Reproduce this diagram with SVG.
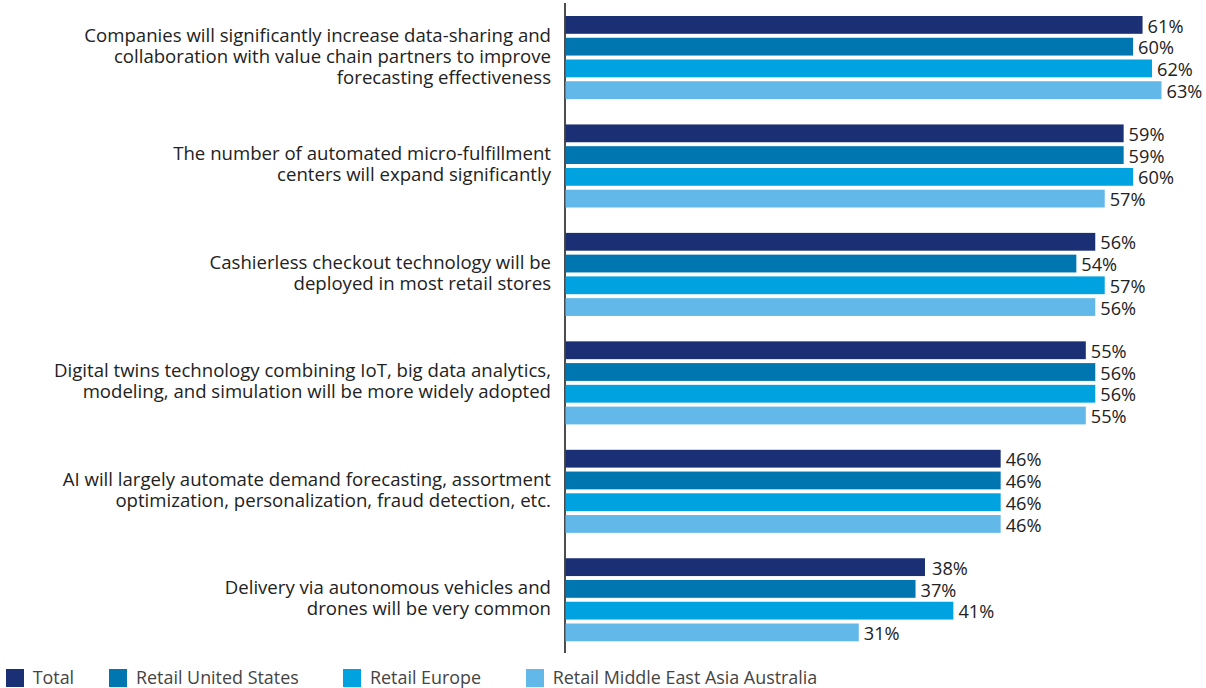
<svg xmlns="http://www.w3.org/2000/svg" width="1206" height="688" viewBox="0 0 1206 688">
<style>
.cat{font-family:"Open Sans","Liberation Sans",sans-serif;font-size:18.6px;fill:#222;text-anchor:end}
.val{font-family:"Open Sans","Liberation Sans",sans-serif;font-size:18.2px;fill:#222}
.leg{font-family:"Open Sans","Liberation Sans",sans-serif;font-size:17.9px;fill:#444}
.c0{fill:#1b2f74}.c1{fill:#0076b1}.c2{fill:#00a3e0}.c3{fill:#62b9e9}
</style>
<rect width="1206" height="688" fill="#ffffff"/>
<g id="axis"><line x1="565" y1="3" x2="565" y2="653" stroke="#000" stroke-width="1.4"/></g>
<g id="group1">
<text class="cat" x="551" y="41.5">Companies will significantly increase data-sharing and</text>
<text class="cat" x="551" y="62.5">collaboration with value chain partners to improve</text>
<text class="cat" x="551" y="83.5">forecasting effectiveness</text>
<rect class="c0" x="565.5" y="16" width="577.06" height="17.8"/>
<rect class="c1" x="565.5" y="37.75" width="567.6" height="17.8"/>
<rect class="c2" x="565.5" y="59.5" width="586.52" height="17.8"/>
<rect class="c3" x="565.5" y="81.25" width="595.98" height="17.8"/>
<text class="val" x="1147.6" y="32.5">61%</text>
<text class="val" x="1138.1" y="54.25">60%</text>
<text class="val" x="1157" y="76">62%</text>
<text class="val" x="1166.5" y="97.75">63%</text>
</g>
<g id="group2">
<text class="cat" x="551" y="160.45">The number of automated micro-fulfillment</text>
<text class="cat" x="551" y="181.45">centers will expand significantly</text>
<rect class="c0" x="565.5" y="124.45" width="558.14" height="17.8"/>
<rect class="c1" x="565.5" y="146.2" width="558.14" height="17.8"/>
<rect class="c2" x="565.5" y="167.95" width="567.6" height="17.8"/>
<rect class="c3" x="565.5" y="189.7" width="539.22" height="17.8"/>
<text class="val" x="1128.6" y="140.95">59%</text>
<text class="val" x="1128.6" y="162.7">59%</text>
<text class="val" x="1138.1" y="184.45">60%</text>
<text class="val" x="1109.7" y="206.2">57%</text>
</g>
<g id="group3">
<text class="cat" x="551" y="268.9">Cashierless checkout technology will be</text>
<text class="cat" x="551" y="289.9">deployed in most retail stores</text>
<rect class="c0" x="565.5" y="232.9" width="529.76" height="17.8"/>
<rect class="c1" x="565.5" y="254.65" width="510.84" height="17.8"/>
<rect class="c2" x="565.5" y="276.4" width="539.22" height="17.8"/>
<rect class="c3" x="565.5" y="298.15" width="529.76" height="17.8"/>
<text class="val" x="1100.3" y="249.4">56%</text>
<text class="val" x="1081.3" y="271.15">54%</text>
<text class="val" x="1109.7" y="292.9">57%</text>
<text class="val" x="1100.3" y="314.65">56%</text>
</g>
<g id="group4">
<text class="cat" x="551" y="377.35">Digital twins technology combining IoT, big data analytics,</text>
<text class="cat" x="551" y="398.35">modeling, and simulation will be more widely adopted</text>
<rect class="c0" x="565.5" y="341.35" width="520.3" height="17.8"/>
<rect class="c1" x="565.5" y="363.1" width="529.76" height="17.8"/>
<rect class="c2" x="565.5" y="384.85" width="529.76" height="17.8"/>
<rect class="c3" x="565.5" y="406.6" width="520.3" height="17.8"/>
<text class="val" x="1090.8" y="357.85">55%</text>
<text class="val" x="1100.3" y="379.6">56%</text>
<text class="val" x="1100.3" y="401.35">56%</text>
<text class="val" x="1090.8" y="423.1">55%</text>
</g>
<g id="group5">
<text class="cat" x="551" y="485.8">AI will largely automate demand forecasting, assortment</text>
<text class="cat" x="551" y="506.8">optimization, personalization, fraud detection, etc.</text>
<rect class="c0" x="565.5" y="449.8" width="435.16" height="17.8"/>
<rect class="c1" x="565.5" y="471.55" width="435.16" height="17.8"/>
<rect class="c2" x="565.5" y="493.3" width="435.16" height="17.8"/>
<rect class="c3" x="565.5" y="515.05" width="435.16" height="17.8"/>
<text class="val" x="1005.7" y="466.3">46%</text>
<text class="val" x="1005.7" y="488.05">46%</text>
<text class="val" x="1005.7" y="509.8">46%</text>
<text class="val" x="1005.7" y="531.55">46%</text>
</g>
<g id="group6">
<text class="cat" x="551" y="594.25">Delivery via autonomous vehicles and</text>
<text class="cat" x="551" y="615.25">drones will be very common</text>
<rect class="c0" x="565.5" y="558.25" width="359.48" height="17.8"/>
<rect class="c1" x="565.5" y="580" width="350.02" height="17.8"/>
<rect class="c2" x="565.5" y="601.75" width="387.86" height="17.8"/>
<rect class="c3" x="565.5" y="623.5" width="293.26" height="17.8"/>
<text class="val" x="932" y="574.75">38%</text>
<text class="val" x="920.5" y="596.5">37%</text>
<text class="val" x="958.4" y="618.25">41%</text>
<text class="val" x="863.8" y="640">31%</text>
</g>
<g id="legend">
<rect class="c0" x="6" y="669" width="18" height="18"/>
<text class="leg" x="32.7" y="684.3">Total</text>
<rect class="c1" x="109" y="669" width="18" height="18"/>
<text class="leg" x="136" y="684.3">Retail United States</text>
<rect class="c2" x="343" y="669" width="18" height="18"/>
<text class="leg" x="370" y="684.3">Retail Europe</text>
<rect class="c3" x="526" y="669" width="18" height="18"/>
<text class="leg" x="552.7" y="684.3">Retail Middle East Asia Australia</text>
</g>
</svg>
